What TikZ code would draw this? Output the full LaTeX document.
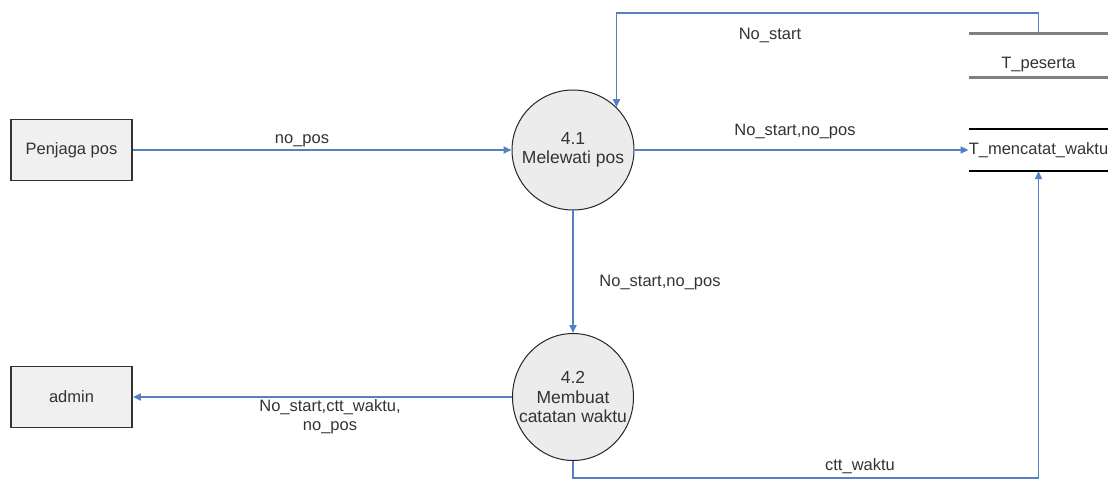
\documentclass[tikz,border=0pt]{standalone}
\usepackage{fontspec}
\setmainfont{Liberation Sans}
\usetikzlibrary{arrows.meta,shapes.geometric}
\definecolor{flow}{RGB}{84,128,196}
\definecolor{boxfill}{RGB}{240,240,240}
\definecolor{procfill}{RGB}{236,236,236}
\definecolor{storegray}{RGB}{128,128,128}
\tikzset{
  txt/.style={font=\fontsize{16.5}{19}\selectfont, text=black!80},
  extent/.style={txt, draw=black!80, line width=1.8pt, fill=boxfill, minimum width=121pt, minimum height=61pt, inner sep=0pt},
  proc/.style={ellipse, draw=black!85, line width=1pt, fill=procfill, inner sep=0pt},
  proctext/.style={txt, font=\fontsize{17.5}{19.5}\selectfont, inner sep=0pt, align=center},
  store/.style={txt, minimum width=139pt, inner sep=0pt},
  flowline/.style={draw=flow, line width=1.7pt, -{Triangle[length=8pt,width=7pt]}},
  lbl/.style={txt, inner sep=1pt, align=center}
}
\begin{document}
\begin{tikzpicture}[x=1pt,y=-1pt]
\useasboundingbox (0,0) rectangle (1116,481);
% external entities
\node[extent] (pp) at (71.5,150) {Penjaga pos};
\node[extent] (admin) at (71.5,397) {admin};
% processes
\node[proc, minimum width=122pt, minimum height=120pt] (p41) at (573,150) {};
\node[proctext] (p41t) at (p41.center) {4.1\\Melewati pos};
\node[proc, minimum width=121pt, minimum height=127pt] (p42) at (573,397) {};
\node[proctext] (p42t) at (p42.center) {4.2\\Membuat\\catatan waktu};
% data stores
\node[store, minimum height=43pt, text height=27pt, text depth=0pt] (tp) at (1038.5,55.5) {T\_peserta};
\draw[storegray, line width=3pt] (tp.north west) -- (tp.north east);
\draw[storegray, line width=3pt] (tp.south west) -- (tp.south east);
\node[store, minimum height=42pt] (tm) at (1038.5,150) {T\_mencatat\_waktu};
\draw[black, line width=1.6pt] (tm.north west) -- (tm.north east);
\draw[black, line width=1.6pt] (tm.south west) -- (tm.south east);
% flows
\draw[flowline] (pp.east) -- (p41.west);
\draw[flowline] (tp.north) -- ++(0,-21) -| (p41.north east);
\draw[flowline] (p41.east) -- (tm.west);
\draw[flowline] (p41.south) -- (p42.north);
\draw[flowline] (p42.west) -- (admin.east);
\draw[flowline] (p42.south) -- ++(0,17) -| (tm.south);
% labels
\node[lbl] (l1) at (302,141) {no\_pos};
\node[lbl] (l2) at (770,35) {No\_start};
\node[lbl] (l3) at (795,132) {No\_start,no\_pos};
\node[lbl] (l4) at (660,283) {No\_start,no\_pos};
\node[lbl] (l5) at (330,417) {No\_start,ctt\_waktu,\\no\_pos};
\node[lbl] (l6) at (860,466) {ctt\_waktu};
\end{tikzpicture}
\end{document}
